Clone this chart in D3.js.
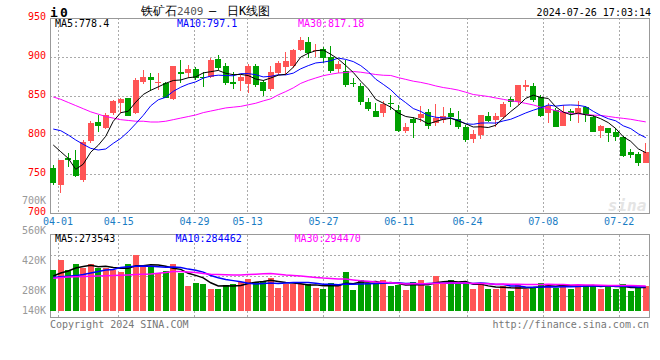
<!DOCTYPE html>
<html><head><meta charset="utf-8">
<script src="https://cdn.jsdelivr.net/npm/d3@7/dist/d3.min.js"></script>
<style>
html,body{margin:0;padding:0;background:#fff;}
svg{display:block;}
text{font-family:"DejaVu Sans Mono","Liberation Mono",monospace;}
</style></head><body>
<svg id="c" width="660" height="360"></svg>
<script>
// ---------------- data ----------------
const dates = ["03-29","04-01","04-02","04-03","04-08","04-09","04-10","04-11","04-12",
"04-15","04-16","04-17","04-18","04-19","04-22","04-23","04-24","04-25","04-26",
"04-29","04-30","05-06","05-07","05-08","05-09","05-10","05-13","05-14","05-15","05-16","05-17",
"05-20","05-21","05-22","05-23","05-24","05-27","05-28","05-29","05-30","05-31",
"06-03","06-04","06-05","06-06","06-07","06-11","06-12","06-13","06-14",
"06-17","06-18","06-19","06-20","06-21","06-24","06-25","06-26","06-27","06-28",
"07-01","07-02","07-03","07-04","07-05","07-08","07-09","07-10","07-11","07-12",
"07-15","07-16","07-17","07-18","07-19","07-22","07-23","07-24","07-25","07-26"];
const opens = [758.6,736.4,770.5,768.4,742.8,792.7,817.4,809.7,828.1,840.9,
 847.3,828.1,868.6,874.1,867.5,866.4,846.0,880.5,880.1,884.8,
 874.0,875.0,897.6,888.6,868.6,869.9,865.2,888.6,868.6,859.2,
 879.2,887.8,888.6,909.1,919.7,907.8,909.9,900.5,884.3,882.2,
 866.4,863.0,843.0,831.0,828.9,841.7,832.3,805.9,820.4,821.7,
 830.2,815.3,819.6,828.9,820.4,810.2,795.2,800.4,824.6,819.6,
 823.0,846.4,843.0,862.2,863.0,848.5,828.1,832.3,812.3,831.0,
 828.1,836.6,823.0,805.9,808.9,804.6,798.2,778.6,776.0,764.1];
const highs = [762.0,769.0,777.0,781.2,794.0,818.7,826.0,828.1,845.0,848.1,
 848.0,872.8,883.5,880.1,880.0,868.6,888.6,896.3,889.9,887.8,
 881.4,898.4,902.7,892.0,880.5,877.1,890.7,890.7,870.7,888.6,
 895.0,907.0,909.9,926.1,926.1,916.7,913.3,914.2,895.4,896.3,
 872.8,867.3,847.3,841.7,843.9,851.5,838.7,816.1,823.0,837.4,
 833.6,840.0,836.6,834.5,831.0,813.2,806.8,826.0,830.2,828.1,
 843.0,849.4,864.3,870.7,867.3,851.5,840.9,835.3,838.7,833.2,
 844.3,837.4,826.0,813.2,809.7,808.9,799.0,782.5,779.0,789.7];
const lows = [736.4,726.6,760.0,746.2,740.7,789.7,804.6,807.6,826.0,828.1,
 824.5,827.2,865.6,857.1,858.0,847.3,845.1,866.4,872.8,870.7,
 862.0,873.7,883.5,864.3,859.2,857.1,854.5,862.2,850.7,857.1,
 877.1,877.1,886.5,907.8,898.4,900.5,892.0,880.1,880.1,862.2,
 861.3,838.7,831.0,823.8,823.8,832.3,804.6,803.4,797.0,817.4,
 808.0,811.9,815.3,813.2,808.0,791.0,790.6,795.2,816.6,811.0,
 820.8,836.6,838.7,856.6,843.0,823.0,815.3,810.2,812.3,818.7,
 815.3,817.4,804.6,797.0,791.8,792.7,772.6,771.4,761.1,764.1];
const closes = [739.4,768.4,768.4,748.0,791.4,816.1,812.3,826.0,843.9,846.4,
 825.1,870.7,875.0,870.7,868.0,848.1,888.6,878.4,884.8,873.7,
 873.5,896.3,886.5,866.4,865.1,875.0,889.0,864.3,857.1,880.9,
 892.9,895.0,909.1,921.9,905.7,909.1,899.3,882.2,891.2,864.3,
 865.0,843.0,833.6,823.8,840.0,839.6,805.9,811.0,816.1,827.2,
 812.3,821.7,824.6,823.0,810.2,794.0,801.2,826.0,818.3,824.6,
 840.0,843.0,864.3,864.3,845.1,824.6,837.4,811.0,830.2,828.1,
 835.3,826.0,804.6,811.9,803.3,797.4,773.5,775.2,764.1,778.9];
const volumes = [355600,402200,355600,382200,366300,382200,366300,366300,355600,346200,
 382200,425600,369600,374200,343000,350900,382200,343000,280900,296300,
 291600,268300,268300,287000,291600,299600,315000,299600,304200,319600,
 273000,288800,288800,288800,291600,273000,268300,296300,284200,346200,
 262300,308900,296300,293500,308900,280900,284200,262300,299600,308900,
 280900,327600,288800,308900,293500,288800,268300,288800,268300,268300,
 280900,257600,284200,268300,276300,296300,284200,273000,290200,268300,
 285600,285600,285600,268300,285600,268300,290200,257600,270200,280900];
const ma5Head = [787.6,779.0,770.5,756.5];
const ma10Head = [808.0,805.9,800.4,794.0,788.4,783.3,781.2,782.5,789.7];
const ma30Head = [849,846,842,838,834,830,827,824,822,820,819,818,818,817,817,818,820,822,824,826,829,831,833,835,836,837,839,841,844];
const vma5Head = [327600,341600,350900,364900];
const vma10Head = [320600,323800,326600,329400,334600,341600,348600,355600,357900];
const vma30Head = [316800,320600,322900,324300,325300,326200,327600,328500,329900,330900,332300,334200,335600,337000,340300,344000,348700,348700,346300,344000,339300,336000,334600,333200,332300,332300,334200,336000,337900];

const priceTicks = [950,900,850,800,750,700];
const volTicks = [700000,560000,420000,280000,140000];
const volTickLabels = ["700K","560K","420K","280K","140K"];
const dateTicks = ["04-01","04-15","04-29","05-13","05-27","06-11","06-24","07-08","07-22"];
const priceLegend = ["MA5:778.4","MA10:797.1","MA30:817.18"];
const volLegend = ["MA5:273543","MA10:284462","MA30:294470"];
const maColors = ["#000000","#0000ff","#ff00ff"];
const titleParts = ["铁矿石","2409","–","日K线图"];
const stamp = "2024-07-26 17:03:14";

// ---------------- layout ----------------
const L = 50, R = 649;
const pTop = 18, pBot = 213.5;
const vTop = 234.5, vBot = 317.5, vBase = 311;
const RED = "#ff5555", GREEN = "#00a000";

const svg = d3.select("#c");
const x = d3.scaleBand().domain(dates).range([49.5, 649.5]).paddingInner(0.2).paddingOuter(0.1);
const bw = x.bandwidth();
const cx = d => x(d) + bw / 2;
const xg = d3.scalePoint().domain(dates).range([50.5, 649.5]);
const y = d3.scaleLinear().domain([700, 950]).range([pBot, pTop]);
const yVol = d3.scaleLinear().domain([164300, 700000]).range([vBase, 196.2]);

function movingAvg(arr, n, head) {
  return arr.map((v, i) => i < n - 1 ? head[i] : d3.mean(arr.slice(i - n + 1, i + 1)));
}

// ---------------- grids & frames ----------------
const grid = svg.append("g").attr("stroke", "#aaa").attr("stroke-dasharray", "2,2").attr("shape-rendering", "crispEdges");
priceTicks.filter(t => t !== 950 && t !== 700).forEach(t => {
  grid.append("line").attr("x1", L).attr("x2", R).attr("y1", y(t)).attr("y2", y(t));
});
dateTicks.forEach(d => {
  grid.append("line").attr("x1", xg(d)).attr("x2", xg(d)).attr("y1", pTop).attr("y2", pBot);
  grid.append("line").attr("x1", xg(d)).attr("x2", xg(d)).attr("y1", vTop).attr("y2", vBot);
});
[1, 2, 3].forEach(k => {
  const yy = vTop + (vBot - vTop) * k / 4;
  grid.append("line").attr("x1", L).attr("x2", R).attr("y1", yy).attr("y2", yy);
});

const frame = svg.append("g").attr("fill", "none").attr("stroke", "#999").attr("shape-rendering", "crispEdges");
frame.append("rect").attr("x", L).attr("y", pTop).attr("width", R - L).attr("height", pBot - pTop);
frame.append("rect").attr("x", L).attr("y", vTop).attr("width", R - L).attr("height", vBot - vTop);

// watermark
svg.append("text").attr("x", 627).attr("y", 211).attr("text-anchor", "middle")
  .attr("font-family", "DejaVu Sans").attr("font-size", 16).attr("font-weight", "bold").attr("font-style", "italic")
  .attr("fill", "#e4e4e4").text("sina");

// ---------------- candles ----------------
const cg = svg.append("g").attr("shape-rendering", "crispEdges");
dates.forEach((d, i) => {
  const up = closes[i] >= opens[i];
  const col = up ? RED : GREEN;
  cg.append("line").attr("x1", Math.floor(cx(d)) + 0.5).attr("x2", Math.floor(cx(d)) + 0.5)
    .attr("y1", y(highs[i])).attr("y2", y(lows[i])).attr("stroke", col);
  const top = y(Math.max(opens[i], closes[i])), bot = y(Math.min(opens[i], closes[i]));
  cg.append("rect").attr("x", Math.round(x(d))).attr("width", Math.round(bw))
    .attr("y", top).attr("height", Math.max(1, bot - top)).attr("fill", col);
});

// price MA lines
const pMA = [movingAvg(closes, 5, ma5Head), movingAvg(closes, 10, ma10Head), movingAvg(closes, 30, ma30Head)];
const pLine = d3.line().x((v, i) => cx(dates[i])).y(v => y(v));
[2, 1, 0].forEach(k => {
  svg.append("path").attr("d", pLine(pMA[k])).attr("fill", "none").attr("stroke", maColors[k]).attr("stroke-width", 1);
});

// ---------------- volume ----------------
const vg = svg.append("g").attr("shape-rendering", "crispEdges");
dates.forEach((d, i) => {
  const up = closes[i] >= opens[i];
  vg.append("rect").attr("x", Math.round(x(d))).attr("width", Math.round(bw))
    .attr("y", yVol(volumes[i])).attr("height", vBase - yVol(volumes[i]))
    .attr("fill", up ? RED : GREEN);
});
const vMA = [movingAvg(volumes, 5, vma5Head), movingAvg(volumes, 10, vma10Head), movingAvg(volumes, 30, vma30Head)];
const vLine = d3.line().x((v, i) => cx(dates[i])).y(v => yVol(v));
[0, 1, 2].forEach(k => {
  svg.append("path").attr("d", vLine(vMA[k])).attr("fill", "none").attr("stroke", maColors[k]).attr("stroke-width", 1.5);
});

// ---------------- texts ----------------
const T = svg.append("g").attr("font-size", 10);
priceTicks.forEach(t => {
  T.append("text").attr("x", 46).attr("y", y(t) - 2).attr("dy", "0.35em").attr("text-anchor", "end")
    .attr("fill", "#ff0000").text(t);
});
volTicks.forEach((t, i) => {
  T.append("text").attr("x", 46).attr("y", Math.min(yVol(t) + 4, 310)).attr("dy", "0.35em").attr("text-anchor", "end")
    .attr("fill", "#999").text(volTickLabels[i]);
});
dateTicks.forEach(d => {
  T.append("text").attr("x", xg(d)).attr("y", 221).attr("dy", "0.35em").attr("text-anchor", "middle")
    .attr("fill", "#1a7dc4").text(d);
});
const plx = [55, 177, 298], vlx = [55, 175.5, 294.5];
priceLegend.forEach((s, k) => {
  T.append("text").attr("x", plx[k]).attr("y", 23.5).attr("dy", "0.35em").attr("fill", maColors[k]).text(s);
});
volLegend.forEach((s, k) => {
  T.append("text").attr("x", vlx[k]).attr("y", 238.7).attr("dy", "0.35em").attr("fill", maColors[k]).text(s);
});
T.append("text").attr("x", 50).attr("y", 324).attr("dy", "0.35em").attr("fill", "#777").text("Copyright 2024 SINA.COM");
T.append("text").attr("x", 649).attr("y", 324).attr("dy", "0.35em").attr("text-anchor", "end").attr("fill", "#777").text("http://finance.sina.com.cn");
T.append("text").attr("x", 651).attr("y", 12.5).attr("dy", "0.35em").attr("text-anchor", "end").attr("fill", "#000").text(stamp);

// header "i 0"
svg.append("text").attr("x", 50).attr("y", 12).attr("dy", "0.35em").attr("font-size", 13).attr("font-weight", "bold").attr("fill", "#000").text("i");
svg.append("text").attr("x", 60).attr("y", 12).attr("dy", "0.35em").attr("font-size", 13).attr("font-weight", "bold").attr("fill", "#000").text("0");

// title
const tx = [141, 177, 209, 227];
const tsize = [12, 11, 12, 12];
const title = svg.append("text").attr("y", 11).attr("dy", "0.35em").attr("font-size", 12)
  .attr("font-family", "'Noto Sans CJK SC','Noto Sans',sans-serif").attr("fill", "#000");
titleParts.forEach((s, k) => {
  title.append("tspan").attr("x", tx[k]).attr("font-size", tsize[k])
    .attr("font-family", k === 1 ? "'DejaVu Sans Mono',monospace" : null)
    .attr("fill", k === 1 ? "#555" : "#000").text(s);
});
</script>
</body></html>
